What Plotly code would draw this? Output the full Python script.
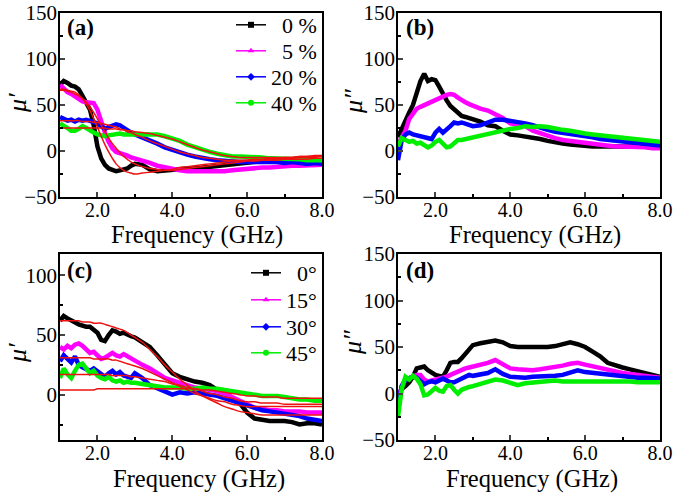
import plotly.graph_objects as go

# Frequency grid (GHz): 0.1 steps up to 3 GHz, then 0.2 steps
freq = [1.0, 1.1, 1.2, 1.3, 1.4, 1.5, 1.6, 1.7, 1.8, 1.9, 2.0, 2.1, 2.2, 2.3, 2.4, 2.5, 2.6, 2.7, 2.8, 2.9, 3.0,
        3.2, 3.4, 3.6, 3.8, 4.0, 4.2, 4.4, 4.6, 4.8, 5.0, 5.2, 5.4, 5.6, 5.8, 6.0, 6.2, 6.4, 6.6, 6.8, 7.0,
        7.2, 7.4, 7.6, 7.8, 8.0]

# (a) mu' vs content
a_labels = ['0 %', '5 %', '20 %', '40 %']
a_0 = [72, 76, 74, 71, 70, 67, 60, 52, 45, 28, 5, -8, -15, -19, -21, -22, -21, -20, -19, -16, -14,
       -15, -20, -22, -21, -20, -20, -19, -19, -18, -17, -16, -15, -14, -13, -12, -11, -11, -10, -11, -10,
       -11, -11, -12, -11, -12]
a_5 = [72, 68, 64, 62, 59, 56, 54, 53, 52, 52, 45, 31, 20, 10, 3, -1, -2, -3, -5, -7, -8,
       -11, -13, -16, -18, -19, -21, -22, -22, -22, -23, -22, -22, -21, -20, -19, -19, -18, -18, -17, -17,
       -16, -16, -16, -15, -15]
a_20 = [37, 35, 33, 34, 32, 34, 33, 34, 33, 32, 30, 27, 24, 26, 28, 29, 28, 25, 22, 20, 18,
        15, 11, 8, 4, 1, -1, -4, -6, -8, -9, -10, -11, -12, -12, -12, -12, -11, -12, -12, -13,
        -12, -13, -14, -13, -14]
a_40 = [30, 28, 25, 22, 22, 24, 27, 25, 22, 20, 18, 17, 16, 17, 18, 18, 19, 18, 18, 19, 18,
        18, 19, 18, 16, 14, 11, 7, 4, 1, -1, -3, -5, -6, -6, -6, -7, -7, -8, -8, -9,
        -9, -9, -10, -10, -10]
a_fit_0 = [67, 67, 66, 65, 64, 61, 57, 51, 44, 35, 26, 16, 7, -1, -8, -14, -18, -21, -23, -24, -25,
           -24, -23, -22, -21, -20, -18, -17, -16, -15, -14, -13, -12, -11, -11, -10, -9, -9, -8, -8, -7,
           -7, -6, -6, -5, -5]
a_fit_5 = [66, 66, 65, 64, 62, 60, 57, 53, 48, 42, 35, 28, 21, 14, 8, 3, -2, -6, -9, -12, -14,
           -17, -19, -20, -21, -21, -20, -19, -18, -17, -16, -15, -14, -13, -12, -11, -11, -10, -9, -9, -8,
           -8, -7, -7, -7, -6]
a_fit_20 = [33, 33, 33, 33, 33, 33, 32, 32, 32, 31, 31, 30, 29, 28, 27, 26, 24, 23, 21, 20, 18,
            15, 11, 8, 5, 2, -1, -3, -5, -7, -8, -9, -10, -10, -10, -10, -10, -10, -10, -10, -9,
            -9, -9, -9, -8, -8]
a_fit_40 = [25, 25, 25, 25, 25, 25, 25, 25, 25, 25, 25, 25, 25, 24, 24, 24, 23, 23, 22, 22, 21,
            20, 19, 17, 15, 13, 10, 7, 4, 1, -1, -3, -5, -6, -7, -7, -7, -7, -7, -7, -7,
            -7, -6, -6, -6, -5]

# (b) mu'' vs content
b_0 = [15, 25, 35, 42, 50, 62, 76, 84, 76, 78, 77, 70, 62, 55, 49, 45, 41, 38, 37, 36, 35,
       32, 28, 27, 22, 18, 17, 16, 15, 13, 11, 9, 8, 7, 6, 5, 5, 5, 5, 4, 4,
       5, 5, 5, 5, 5]
b_5 = [8, 15, 22, 35, 40, 46, 48, 50, 52, 53, 55, 57, 59, 61, 62, 61, 58, 55, 53, 51, 49,
       46, 44, 40, 36, 30, 28, 27, 22, 19, 17, 14, 12, 11, 9, 8, 7, 6, 6, 5, 5,
       5, 4, 4, 3, 3]
b_20 = [-10, 12, 18, 20, 18, 17, 16, 16, 15, 13, 20, 24, 20, 23, 27, 31, 30, 31, 30, 28, 27,
        28, 31, 34, 34, 33, 31, 30, 28, 25, 23, 21, 20, 19, 18, 17, 15, 13, 12, 11, 10,
        9, 9, 8, 7, 6]
b_40 = [5, 14, 12, 10, 11, 8, 9, 6, 4, 6, 10, 12, 8, 4, 5, 8, 12, 12, 13, 14, 15,
        17, 19, 21, 22, 24, 25, 27, 26, 27, 26, 24, 23, 22, 20, 19, 18, 17, 16, 15, 14,
        13, 13, 12, 11, 10]

# (c) mu' vs angle
c_labels = ['0°', '15°', '30°', '45°']
c_0 = [62, 66, 64, 62, 60, 59, 58, 57, 57, 55, 52, 46, 45, 50, 54, 53, 51, 52, 50, 49, 48,
       44, 40, 33, 26, 18, 15, 13, 11, 10, 8, 4, 2, -3, -7, -15, -20, -21, -22, -22, -22,
       -23, -25, -24, -24, -25]
c_15 = [40, 38, 41, 39, 42, 43, 41, 38, 35, 36, 33, 30, 31, 33, 35, 33, 32, 34, 32, 31, 28,
        25, 22, 18, 14, 12, 10, 8, 6, 5, 4, 3, 1, -2, -5, -8, -11, -12, -13, -13, -14,
        -14, -14, -15, -15, -15]
c_30 = [28, 33, 30, 27, 32, 25, 23, 21, 20, 22, 20, 17, 15, 18, 20, 17, 19, 16, 15, 14, 18,
        14, 8, 5, 2, 0, 2, 1, 2, 1, 0, -1, -3, -5, -7, -9, -11, -13, -14, -15, -16,
        -17, -18, -20, -21, -22]
c_45 = [14, 22, 17, 14, 20, 25, 26, 22, 18, 20, 16, 14, 13, 15, 12, 11, 12, 10, 11, 10, 10,
        9, 8, 7, 6, 6, 6, 5, 5, 6, 5, 5, 4, 3, 2, 1, 0, -1, -1, -1, -2,
        -3, -4, -4, -5, -5]
c_fit_0 = [62, 62, 62, 62, 62, 62, 61, 61, 61, 60, 60, 60, 59, 58, 57, 56, 55, 54, 52, 50, 48,
           44, 38, 32, 25, 19, 13, 8, 3, -1, -4, -7, -10, -12, -14, -15, -16, -17, -17, -17, -17,
           -17, -17, -17, -17, -17]
c_fit_15 = [31, 31, 31, 31, 31, 31, 31, 31, 31, 30, 30, 30, 30, 30, 29, 29, 28, 27, 26, 25, 24,
            22, 19, 16, 13, 10, 7, 4, 1, -1, -3, -5, -6, -8, -9, -10, -10, -10, -10, -10, -10,
            -10, -10, -10, -10, -10]
c_fit_30 = [17, 17, 17, 17, 17, 17, 17, 17, 17, 17, 17, 17, 17, 17, 16, 16, 16, 16, 16, 15, 15,
            14, 13, 12, 11, 9, 8, 6, 5, 3, 1, 0, -2, -3, -5, -6, -6, -7, -7, -7, -8,
            -8, -8, -8, -8, -8]
c_fit_45 = [4, 4, 4, 4, 4, 4, 4, 4, 4, 4, 5, 5, 5, 5, 5, 5, 5, 5, 5, 5, 5,
            5, 5, 5, 5, 5, 5, 5, 5, 4, 4, 3, 2, 1, 0, -1, -1, -2, -2, -2, -3,
            -3, -3, -3, -3, -3]

# (d) mu'' vs angle
d_0 = [-3, 5, 8, 12, 18, 27, 28, 29, 25, 22, 20, 19, 18, 25, 33, 34, 34, 38, 43, 48, 52,
       54, 56, 57, 55, 51, 50, 50, 49, 50, 50, 51, 53, 55, 53, 50, 45, 40, 33, 30, 28,
       26, 24, 22, 20, 18]
d_15 = [-10, 8, 15, 17, 18, 20, 20, 15, 13, 14, 14, 15, 16, 18, 20, 22, 23, 25, 27, 28, 29,
        30, 33, 36, 31, 27, 26, 25, 25, 26, 27, 28, 30, 32, 33, 31, 29, 27, 25, 23, 22,
        21, 20, 19, 18, 17]
d_30 = [-15, 8, 15, 17, 18, 17, 14, 10, 12, 13, 12, 14, 16, 14, 12, 12, 14, 16, 18, 20, 19,
        21, 22, 26, 21, 18, 17, 17, 18, 18, 18, 19, 20, 23, 25, 23, 22, 21, 20, 19, 18,
        18, 17, 17, 16, 16]
d_45 = [-25, 5, 18, 15, 19, 16, 10, -2, -1, 2, 6, 3, 2, 8, 9, 4, 0, 4, 6, 7, 8,
        10, 12, 15, 14, 12, 9, 11, 12, 13, 14, 14, 13, 13, 14, 14, 13, 13, 13, 13, 13,
        13, 12, 12, 12, 12]

colors = ['#000000', '#FF00FF', '#0000FF', '#00EE00']
symbols = ['square', 'triangle-up', 'diamond', 'circle']
FIT_COLOR = '#EE1111'
FONT = 'Liberation Serif, Times New Roman, DejaVu Serif, serif'

W, H = 675, 494


def px_x(v):
    return v / W


def px_y(v):
    return 1 - v / H


fig = go.Figure()

panels = [
    dict(xaxis='x', yaxis='y', data=[a_0, a_5, a_20, a_40],
         fits=[a_fit_0, a_fit_5, a_fit_20, a_fit_40]),
    dict(xaxis='x2', yaxis='y2', data=[b_0, b_5, b_20, b_40], fits=[]),
    dict(xaxis='x3', yaxis='y3', data=[c_0, c_15, c_30, c_45],
         fits=[c_fit_0, c_fit_15, c_fit_30, c_fit_45]),
    dict(xaxis='x4', yaxis='y4', data=[d_0, d_15, d_30, d_45], fits=[]),
]

for p in panels:
    for i, ys in enumerate(p['data']):
        fig.add_trace(go.Scatter(x=freq, y=ys, mode='lines', xaxis=p['xaxis'], yaxis=p['yaxis'],
                                 line=dict(color=colors[i], width=4.5), showlegend=False,
                                 hoverinfo='skip'))
    for ys in p['fits']:
        fig.add_trace(go.Scatter(x=freq, y=ys, mode='lines', xaxis=p['xaxis'], yaxis=p['yaxis'],
                                 line=dict(color=FIT_COLOR, width=1.5), showlegend=False,
                                 line_shape='spline', hoverinfo='skip'))

# one small legend per entry so the rows sit where the reference puts them
pad = '\u2007'
legend_style = dict(bgcolor='rgba(0,0,0,0)', borderwidth=0, xanchor='right', yanchor='middle',
                    font=dict(family=FONT, size=22, color='black'))
legends = {}
rows_a = [25, 51, 77, 103]
rows_c = [273, 300, 327, 353]
n = 0
for labels, rows, xa, ya, width in [(a_labels, rows_a, 'x', 'y', 4), (c_labels, rows_c, 'x3', 'y3', 3)]:
    for i, lab in enumerate(labels):
        n += 1
        lid = 'legend' if n == 1 else 'legend%d' % n
        name = (pad + lab) if len(lab) < width else lab
        fig.add_trace(go.Scatter(x=[None], y=[None], mode='lines+markers', name=name, legend=lid,
                                 xaxis=xa, yaxis=ya,
                                 line=dict(color=colors[i], width=1.5),
                                 marker=dict(symbol=symbols[i], size=6, color=colors[i])))
        legends[lid] = dict(x=px_x(322), y=px_y(rows[i]), **legend_style)


def xax(dom, anchor):
    return dict(domain=dom, anchor=anchor, range=[1, 8], tick0=2, dtick=2, tickformat='.1f',
                ticks='inside', ticklen=5, tickwidth=1.5, showline=True, mirror=True,
                linecolor='black', linewidth=1.5, showgrid=False, zeroline=False, automargin=False,
                ticklabeloverflow='allow', ticklabelstandoff=-6,
                tickfont=dict(family=FONT, size=20, color='black'),
                minor=dict(ticks='inside', ticklen=3, dtick=1, tick0=1, tickcolor='black'))


def yax(dom, anchor, rng):
    return dict(domain=dom, anchor=anchor, range=rng, dtick=50, tick0=0,
                ticks='inside', ticklen=5, tickwidth=1.5, showline=True, mirror=True,
                linecolor='black', linewidth=1.5, showgrid=False, zeroline=False, automargin=False,
                ticklabeloverflow='allow', ticklabelstandoff=-3,
                tickfont=dict(family=FONT, size=21, color='black'),
                minor=dict(ticks='inside', ticklen=3, dtick=25, tickcolor='black'))


xl = [px_x(60), px_x(322)]
xr = [px_x(398), px_x(660)]
yt = [px_y(197), px_y(13)]
yb = [px_y(440), px_y(254)]

annotations = []
for cx, cy in [(197, 235), (535, 235), (199, 479), (532, 479)]:
    annotations.append(dict(text='Frequency (GHz)', x=px_x(cx), y=px_y(cy), xref='paper', yref='paper',
                            showarrow=False, xanchor='center', yanchor='middle',
                            font=dict(family=FONT, size=24.5, color='black')))
for txt, cx, cy in [('μ′', 17, 103), ('μ″', 353, 101), ('μ′', 17, 353), ('μ″', 352, 342)]:
    annotations.append(dict(text='<i>' + txt + '</i>', x=px_x(cx), y=px_y(cy), xref='paper', yref='paper',
                            showarrow=False, xanchor='center', yanchor='middle', textangle=-90,
                            font=dict(family=FONT, size=26, color='black')))
for txt, cx, cy in [('(a)', 65, 28), ('(b)', 404, 28), ('(c)', 65, 270), ('(d)', 404, 270)]:
    annotations.append(dict(text='<b>' + txt + '</b>', x=px_x(cx), y=px_y(cy), xref='paper', yref='paper',
                            showarrow=False, xanchor='left', yanchor='middle',
                            font=dict(family=FONT, size=23, color='black')))

fig.update_layout(
    width=W, height=H,
    margin=dict(l=0, r=0, t=0, b=0, autoexpand=False),
    paper_bgcolor='white', plot_bgcolor='white',
    xaxis=xax(xl, 'y'), yaxis=yax(yt, 'x', [-50, 150]),
    xaxis2=xax(xr, 'y2'), yaxis2=yax(yt, 'x2', [-50, 150]),
    xaxis3=xax(xl, 'y3'), yaxis3=yax(yb, 'x3', [-38, 118]),
    xaxis4=xax(xr, 'y4'), yaxis4=yax(yb, 'x4', [-50, 150]),
    annotations=annotations,
    showlegend=True,
    **legends,
)

# the page body has a default 8px margin; drop it so the figure sits at the window's corner
fig.write_html("out.html", config={'displayModeBar': False},
               post_script="document.body.style.margin='0px';")
